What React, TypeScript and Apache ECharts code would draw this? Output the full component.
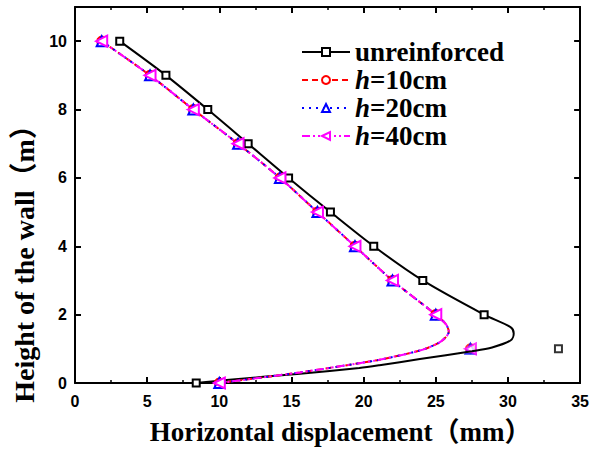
import React, { useEffect, useRef } from "react";
import * as echarts from "echarts";

// ---- data ----
const seriesNames = ["unreinforced", "h=10cm", "h=20cm", "h=40cm"];

// unreinforced: marked points along the upper branch (height 10 .. 2 m)
const unreinfUpper: [number, number][] = [
  [3.1, 10], [6.3, 9], [9.2, 8], [12.0, 7], [14.8, 6], [17.7, 5], [20.7, 4], [24.1, 3], [28.35, 2],
];
// unreinforced: unmarked points of the curve around the bulge
const unreinfBend: [number, number][] = [
  [30.2, 1.63], [30.4, 1.45], [30.2, 1.25], [28.9, 1.04], [27.5, 0.93], [23.9, 0.7], [21.1, 0.52],
  [19.7, 0.44], [15.6, 0.27], [10.5, 0.09],
];
const unreinfBottom: [number, number] = [8.4, 0];
const unreinfOutlier: [number, number] = [33.5, 1];

// reinforced cases
const h10Upper: [number, number][] = [
  [1.85, 10], [5.2, 9], [8.2, 8], [11.3, 7], [14.2, 6], [16.8, 5], [19.4, 4], [22.0, 3], [25.0, 2],
];
const h10Bend: [number, number][] = [
  [25.7, 1.72], [25.9, 1.5], [25.6, 1.3], [25.1, 1.15], [23.9, 0.95], [21.1, 0.68], [19.7, 0.58],
  [15.6, 0.31],
];
const h10Bottom: [number, number] = [10.0, 0];
const h10Outlier: [number, number] = [27.4, 1];

const h20Upper: [number, number][] = [
  [1.85, 10], [5.2, 9], [8.2, 8], [11.3, 7], [14.2, 6], [16.8, 5], [19.4, 4], [22.0, 3], [25.0, 2],
];
const h20Bend: [number, number][] = [
  [25.7, 1.72], [25.9, 1.5], [25.6, 1.3], [25.1, 1.15], [23.9, 0.95], [21.1, 0.68], [19.7, 0.58],
  [15.6, 0.31],
];
const h20Bottom: [number, number] = [10.0, 0];
const h20Outlier: [number, number] = [27.4, 1];

const h40Upper: [number, number][] = [
  [1.85, 10], [5.2, 9], [8.2, 8], [11.3, 7], [14.2, 6], [16.8, 5], [19.4, 4], [22.0, 3], [25.0, 2],
];
const h40Bend: [number, number][] = [
  [25.7, 1.72], [25.9, 1.5], [25.6, 1.3], [25.1, 1.15], [23.9, 0.95], [21.1, 0.68], [19.7, 0.58],
  [15.6, 0.31],
];
const h40Bottom: [number, number] = [10.0, 0];
const h40Outlier: [number, number] = [27.4, 1];

const SERIF = "'Liberation Serif', 'Times New Roman', 'Noto Sans CJK SC', serif";
const SANS = "'Liberation Sans', Arial, sans-serif";

function buildLine(upper: [number, number][], bend: [number, number][], bottom: [number, number]) {
  return [
    ...upper.map((p) => ({ value: p })),
    ...bend.map((p) => ({ value: p, symbol: "none" })),
    { value: bottom },
  ];
}

export default function App() {
  const ref = useRef<HTMLDivElement>(null);
  useEffect(() => {
    if (!ref.current) return;
    const chart = echarts.init(ref.current, undefined, { renderer: "svg" });

    const axisLine = { show: true, onZero: false, lineStyle: { color: "#000", width: 2 } };
    const axisTick = { show: true, inside: true, length: 6, lineStyle: { color: "#000", width: 2 } };

    const defs = [
      { name: seriesNames[0], color: "#000000", type: "solid" as any, symbol: "emptyRect", size: 7, rot: 0,
        data: buildLine(unreinfUpper, unreinfBend, unreinfBottom), out: unreinfOutlier },
      { name: seriesNames[1], color: "#ff0000", type: [6, 4] as any, symbol: "emptyCircle", size: 9, rot: 0,
        data: buildLine(h10Upper, h10Bend, h10Bottom), out: h10Outlier },
      { name: seriesNames[2], color: "#0000ff", type: [2, 5] as any, symbol: "emptyTriangle", size: 10, rot: 0,
        data: buildLine(h20Upper, h20Bend, h20Bottom), out: h20Outlier },
      { name: seriesNames[3], color: "#ff00ff", type: [8, 3, 2, 3, 2, 3] as any, symbol: "emptyTriangle", size: 11, rot: 90,
        data: buildLine(h40Upper, h40Bend, h40Bottom), out: h40Outlier },
    ];

    const series: any[] = [];
    defs.forEach((d) => {
      series.push({
        name: d.name,
        type: "line",
        smooth: 0.3,
        data: d.data,
        symbol: d.symbol,
        symbolSize: d.size,
        symbolRotate: d.rot,
        showAllSymbol: true,
        lineStyle: { color: d.color, width: 2, type: d.type },
        itemStyle: { color: d.color, borderColor: d.color, borderWidth: 1.5 },
        emphasis: { disabled: true },
      });
    });
    defs.forEach((d) => {
      series.push({
        name: d.name + " (point)",
        type: "scatter",
        data: [d.out],
        symbol: d.symbol,
        symbolSize: d.size,
        symbolRotate: d.rot,
        itemStyle: { color: d.color, borderColor: d.color, borderWidth: 1.5 },
        emphasis: { disabled: true },
      });
    });

    const legendText = { fontFamily: SERIF, fontWeight: "bold" as any, fontSize: 27, color: "#000" };

    chart.setOption({
      animation: false,
      backgroundColor: "#fff",
      grid: { left: 75, right: 10, top: 7, bottom: 67, containLabel: false },
      legend: {
        data: seriesNames,
        orient: "vertical",
        left: 296,
        top: 33,
        itemWidth: 48,
        itemHeight: 10,
        itemGap: 0,
        textStyle: {
          ...legendText,
          lineHeight: 28,
          rich: {
            i: { ...legendText, fontStyle: "italic", lineHeight: 28 },
            n: { ...legendText, lineHeight: 28 },
          },
        },
        formatter: (name: string) =>
          name.startsWith("h=") ? "{i|h}{n|" + name.slice(1) + "}" : "{n|" + name + "}",
      },
      xAxis: [
        {
          type: "value", min: 0, max: 35, interval: 5, position: "bottom",
          axisLine, axisTick,
          minorTick: { show: true, splitNumber: 2, length: 3, lineStyle: { color: "#000", width: 1.5 } },
          splitLine: { show: false },
          axisLabel: { color: "#000", fontFamily: SANS, fontWeight: "bold", fontSize: 16, margin: 10 },
          name: "Horizontal displacement（mm）",
          nameLocation: "middle",
          nameGap: 35,
          nameTextStyle: {
            fontFamily: SERIF, fontWeight: "bold", fontSize: 27, color: "#000",
            padding: [0, 0, 0, 26],
          },
        },
        {
          type: "value", min: 0, max: 35, interval: 5, position: "top",
          axisLine, axisTick,
          minorTick: { show: true, splitNumber: 2, length: 3, lineStyle: { color: "#000", width: 1.5 } },
          splitLine: { show: false },
          axisLabel: { show: false },
        },
      ],
      yAxis: [
        {
          type: "value", min: 0, max: 11, interval: 2, position: "left",
          axisLine, axisTick,
          splitLine: { show: false },
          axisLabel: {
            color: "#000", fontFamily: SANS, fontWeight: "bold", fontSize: 16, margin: 8,
            showMaxLabel: false,
            formatter: (v: number) => (v > 10 ? "" : String(v)),
          },
          name: "Height of the wall（m）",
          nameLocation: "middle",
          nameRotate: 90,
          nameGap: 29,
          nameTextStyle: {
            fontFamily: SERIF, fontWeight: "bold", fontSize: 28, color: "#000",
            padding: [0, 124, 0, 0],
          },
        },
        {
          type: "value", min: 0, max: 11, interval: 2, position: "right",
          axisLine, axisTick,
          splitLine: { show: false },
          axisLabel: { show: false },
        },
      ],
      series,
    });
    return () => chart.dispose();
  }, []);
  return (
    <div
      ref={ref}
      style={{ position: "fixed", left: 0, top: 0, width: 592, height: 450, background: "#fff" }}
    />
  );
}
